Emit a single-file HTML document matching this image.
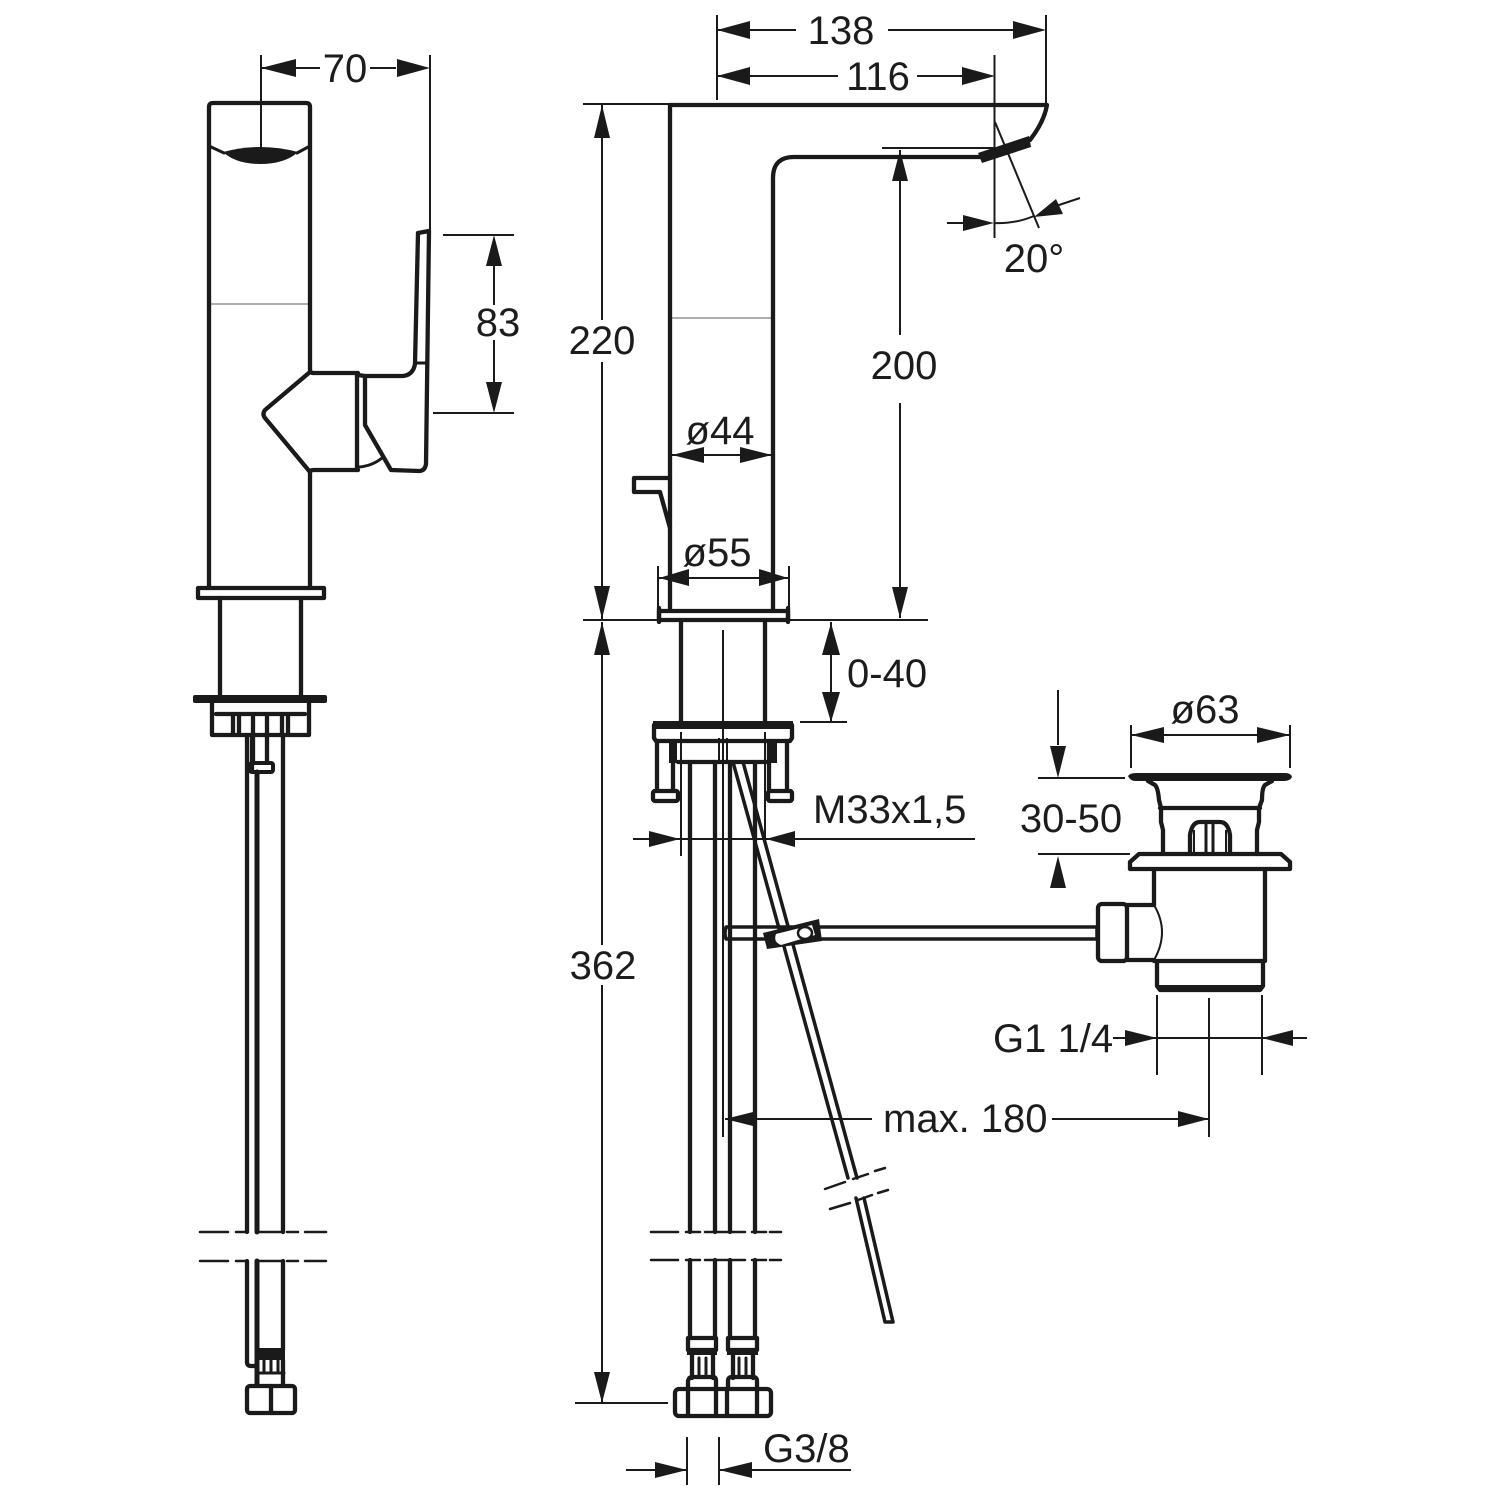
<!DOCTYPE html>
<html><head><meta charset="utf-8"><style>
html,body{margin:0;padding:0;background:#fff}
svg{display:block}
text{font-family:"Liberation Sans",sans-serif;font-size:40px;fill:#1c1c1c}
.m{fill:none;stroke:#1a1a1a;stroke-width:4.3;stroke-linejoin:round;stroke-linecap:round}
.t{fill:none;stroke:#1a1a1a;stroke-width:2}
.h{fill:none;stroke:#1a1a1a;stroke-width:1;opacity:.7}
.a{fill:#1a1a1a;stroke:none}
.w{fill:#fff;stroke:#1a1a1a;stroke-width:4;stroke-linejoin:round}
</style></head><body>
<svg width="1500" height="1500" viewBox="0 0 1500 1500" xmlns="http://www.w3.org/2000/svg">
<rect width="1500" height="1500" fill="#fff"/>

<!-- LEFT VIEW -->
<path class="m" d="M209 587V107Q209 103 213 103H306Q310 103 310 107V370Q310 373 314 373H358M310 472Q310 470 314 470H358M310 472V587"/>
<path class="m" d="M310 372L265 410Q262 414 265 418L310 472"/>
<path class="m" d="M357 373V470"/>
<path class="m" d="M358 375L365 376H403Q413 375 415 364L418 233L429 231L426 464Q425 471 419 471L391 470L365 425V376"/>
<path class="m" style="stroke-width:3" d="M416 363H427M359 467Q372 466 382 458"/>
<path class="a" d="M223 152Q260 142 298 152Q285 164 260 164Q236 164 223 152Z"/>
<path class="m" style="stroke-width:3" d="M209 146L224 153M310 146L297 153"/>
<path class="h" d="M210 304H309"/>
<rect class="m" x="198" y="588" width="126" height="10"/>
<path class="m" d="M220 598V697M301 598V697"/>
<rect class="a" x="193" y="695" width="134" height="8" rx="2"/>
<path class="m" d="M212 703V735H309V703M216 714H305M233 714V735M239 714V735M253 714V762M267 714V762M282 714V735M288 714V735"/>
<rect class="w" x="250" y="763" width="23" height="9" rx="2"/>
<path class="m" d="M247 735V1232M283 735V1232"/>
<path class="m" style="stroke-width:5" d="M257 772V1232"/>
<path class="m" d="M252 735V770"/>
<path class="m" style="stroke-width:2.5" d="M200 1232H228M236 1232H246M257 1232H282M287 1232H298M305 1232H326M200 1261H228M236 1261H246M257 1261H282M287 1261H298M305 1261H326"/>
<path class="m" d="M247 1261V1362Q247 1366 251 1366H256M283 1261V1350"/>
<path class="m" style="stroke-width:5" d="M257 1261V1385"/>
<rect class="a" x="255" y="1348" width="30" height="12"/>
<path class="m" d="M257 1360V1385M283 1360V1385"/>
<path class="m" style="stroke-width:3" d="M264 1356V1372M271 1356V1372M278 1356V1372M258 1373H284"/>
<rect class="m" x="247" y="1386" width="48" height="27" rx="3"/>
<path class="m" d="M271 1386V1413"/>

<path class="t" d="M261 55V150M430 55V232M261 68H320M370 68H396M443 235H514M433 413H514M494 265V305M494 340V385"/>
<polygon class="a" points="261,68 296,59 296,77"/><polygon class="a" points="430,68 397,59 397,77"/>
<polygon class="a" points="494,235 486,266 502,266"/><polygon class="a" points="494,413 486,382 502,382"/>
<text x="345" y="82" text-anchor="middle">70</text>
<text x="498" y="336" text-anchor="middle">83</text>

<!-- RIGHT VIEW: spout -->
<path class="m" d="M670 610V105H1047Q1044 122 1030 140M773 610V178Q773 157 794 157H980"/>
<path class="a" d="M978 153L1029 136L1031 147L982 163Z"/>
<path class="m" style="stroke-width:2.5" d="M1047 105Q1043 121 1030 140"/>
<path class="h" d="M671 318H772"/>
<path class="m" d="M670 478H634V492H660L670 528"/>
<rect class="m" x="659" y="611" width="129" height="9"/>
<path class="m" d="M659 608V622M788 608V622"/>

<!-- dims top -->
<path class="t" d="M717 15V100M1046 15V105M994.5 55V238M717 30H796M888 30H1015M717 76H838M917 76H965M882 148H995M995 122L1039 228M947 223H963M994 223Q1015 224 1034 216M1056 206L1080 198"/>
<polygon class="a" points="717,30 750,21 750,39"/><polygon class="a" points="1046,30 1013,21 1013,39"/>
<polygon class="a" points="717,76 750,67 750,85"/><polygon class="a" points="995,76 962,67 962,85"/>
<polygon class="a" points="994,223 963,215 963,231"/><polygon class="a" points="1034,217 1056,199 1063,214"/>
<text x="841" y="44" text-anchor="middle">138</text>
<text x="878" y="90" text-anchor="middle">116</text>
<text x="1034" y="272" text-anchor="middle">20°</text>

<path class="t" d="M583 104H670M583 620H658M790 620H928M575 1403H668M602 105V320M602 362V620M602 622V945M602 985V1403M900 150V335M900 403V618"/>
<polygon class="a" points="602,105 594,138 610,138"/><polygon class="a" points="602,619 594,586 610,586"/>
<polygon class="a" points="602,622 594,655 610,655"/><polygon class="a" points="602,1403 594,1372 610,1372"/>
<polygon class="a" points="900,150 892,181 908,181"/><polygon class="a" points="900,618 892,587 908,587"/>
<text x="602" y="354" text-anchor="middle">220</text>
<text x="603" y="979" text-anchor="middle">362</text>
<text x="904" y="379" text-anchor="middle">200</text>

<path class="t" d="M672 455H772M658 566V610M789 566V610M658 578H789"/>
<polygon class="a" points="672,455 704,447 704,463"/><polygon class="a" points="772,455 740,447 740,463"/>
<polygon class="a" points="659,578 689,569 689,586"/><polygon class="a" points="788,578 759,569 759,586"/>
<text x="720" y="444" text-anchor="middle">ø44</text>
<text x="717" y="566" text-anchor="middle">ø55</text>

<!-- lower body -->
<path class="m" d="M681 621V722M765 621V722"/>
<path class="t" d="M723 630V1137"/>
<rect class="a" x="653" y="721" width="140" height="8"/>
<path class="m" d="M654 725V738L656 741H790L792 738V725"/>
<path class="m" d="M657 741V790M673 741V790M769 741V790M787 741V790"/>
<rect class="a" x="669" y="741" width="8" height="22"/><rect class="a" x="769" y="741" width="8" height="22"/>
<rect class="m" x="653" y="791" width="25" height="10" rx="2"/>
<rect class="m" x="768" y="791" width="24" height="10" rx="2"/>
<path class="m" d="M678 762H768"/>
<path class="t" d="M719 738V762M727 738V762"/>
<path class="m" d="M690 762V1232M715 762V1232M730 762V1232M755 762V1232"/>
<path class="t" d="M681 732V856M765 732V839"/>

<!-- drain rod -->
<path class="m" style="stroke-width:3.5" d="M733 762L848 1178M743 762L857 1178M856 1198L885 1322H893L864 1198"/>

<!-- M33 -->
<path class="t" d="M633 839H975"/>
<polygon class="a" points="680,839 649,831 649,847"/><polygon class="a" points="766,839 795,831 795,847"/>
<text x="813" y="823">M33x1,5</text>

<!-- 0-40 -->
<path class="t" d="M831 622V722M800 722H847"/>
<polygon class="a" points="831,623 822,655 840,655"/><polygon class="a" points="831,722 822,692 840,692"/>
<text x="847" y="687">0-40</text>

<!-- break -->
<path class="m" style="stroke-width:2.5" d="M651 1232H678M686 1232H700M705 1232H745M752 1232H766M770 1232H781M651 1260H678M686 1260H700M705 1260H745M752 1260H766M770 1260H781"/>
<path class="m" style="stroke-width:2.5" d="M825 1189L845 1182M853 1179L868 1174M875 1171L885 1168M830 1209L850 1203M858 1200L872 1195M878 1193L888 1190"/>
<path class="m" d="M690 1260V1338M715 1260V1338M730 1260V1338M755 1260V1338"/>

<!-- connectors -->
<path class="m" d="M688 1338H716V1350H688ZM728 1338H757V1350H728Z"/>
<rect class="a" x="687" y="1349" width="30" height="6"/><rect class="a" x="727" y="1349" width="31" height="6"/>
<path class="m" d="M692 1353V1378M713 1353V1378M733 1353V1378M753 1353V1378"/>
<path class="m" style="stroke-width:3" d="M699 1358V1376M706 1358V1376M739 1358V1376M746 1358V1376"/>
<path class="m" d="M688 1388V1381Q689 1377 692 1377H713Q716 1377 716 1381V1388M728 1388V1381Q728 1377 732 1377H753Q757 1377 757 1381V1388"/>
<rect class="m" x="675" y="1389" width="96" height="27" rx="4"/>
<path class="m" d="M688 1389V1416M716 1389V1416M727 1389V1416M757 1389V1416"/>

<!-- G3/8 -->
<path class="t" d="M687 1437V1485M719 1437V1485M626 1470H687M719 1470H851"/>
<polygon class="a" points="687,1470 655,1462 655,1478"/><polygon class="a" points="719,1470 752,1462 752,1478"/>
<text x="763" y="1462">G3/8</text>

<!-- pull rod -->
<path class="m" d="M726 927H1097V939H726Q724 933 726 927Z" style="stroke-width:3.5"/>
<path class="a" d="M763 933L819 919L822 941L767 949Z"/>
<path fill="#fff" d="M776 934L812 925L815 935L781 945Q773 942 776 934Z"/>
<ellipse cx="805" cy="933" rx="7" ry="6" fill="#fff" stroke="#1a1a1a" stroke-width="2.5"/>

<!-- waste -->
<path class="a" d="M1128 776Q1130 773 1136 773H1285Q1291 773 1292 777Q1290 781 1284 781H1136Q1130 781 1128 776Z"/>
<path class="m" d="M1148 781L1155 785Q1158 788 1159 800L1161 808V822L1163 830V854M1272 781L1265 785Q1262 788 1262 800L1259 808V822L1257 830V854M1160 808H1260"/>
<path class="m" d="M1190 853V835Q1192 822 1200 822H1220Q1228 822 1230 835V853"/>
<path class="m" style="stroke-width:3" d="M1206 822V853M1213 822V853"/>
<path class="t" d="M1194 830V853M1226 830V853"/>
<path class="m" d="M1139 854H1281L1290 862V869H1130V862Z"/>
<path class="m" d="M1154 871V905M1265 871V961M1154 961H1265M1157 961V986L1160 990H1260L1263 986V961"/>
<rect class="a" x="1158" y="985" width="104" height="6"/>
<rect class="m" x="1098" y="904" width="29" height="57" rx="4"/>
<path class="m" d="M1127 905H1154M1127 960H1154"/>
<path class="m" style="stroke-width:2" d="M1154 905Q1170 932 1154 960"/>

<!-- waste dims -->
<path class="t" d="M1131 725V768M1290 725V768M1131 735H1290M1058 690V745M1038 778H1125M1038 854H1130"/>
<polygon class="a" points="1131,735 1164,727 1164,743"/><polygon class="a" points="1290,735 1257,727 1257,743"/>
<polygon class="a" points="1058,778 1050,746 1066,746"/><polygon class="a" points="1058,856 1050,888 1066,888"/>
<text x="1205" y="723" text-anchor="middle">ø63</text>
<text x="1071" y="832" text-anchor="middle">30-50</text>

<path class="t" d="M1157 995V1075M1262 995V1075M1209 998V1137M1113 1038H1262M1262 1038H1307"/>
<polygon class="a" points="1157,1038 1125,1030 1125,1046"/><polygon class="a" points="1262,1038 1293,1030 1293,1046"/>
<text x="993" y="1052">G1 1/4</text>

<path class="t" d="M725 1119H872M1052 1119H1209"/>
<polygon class="a" points="725,1119 757,1111 757,1127"/><polygon class="a" points="1209,1119 1178,1111 1178,1127"/>
<text x="883" y="1132">max. 180</text>
</svg>
</body></html>
